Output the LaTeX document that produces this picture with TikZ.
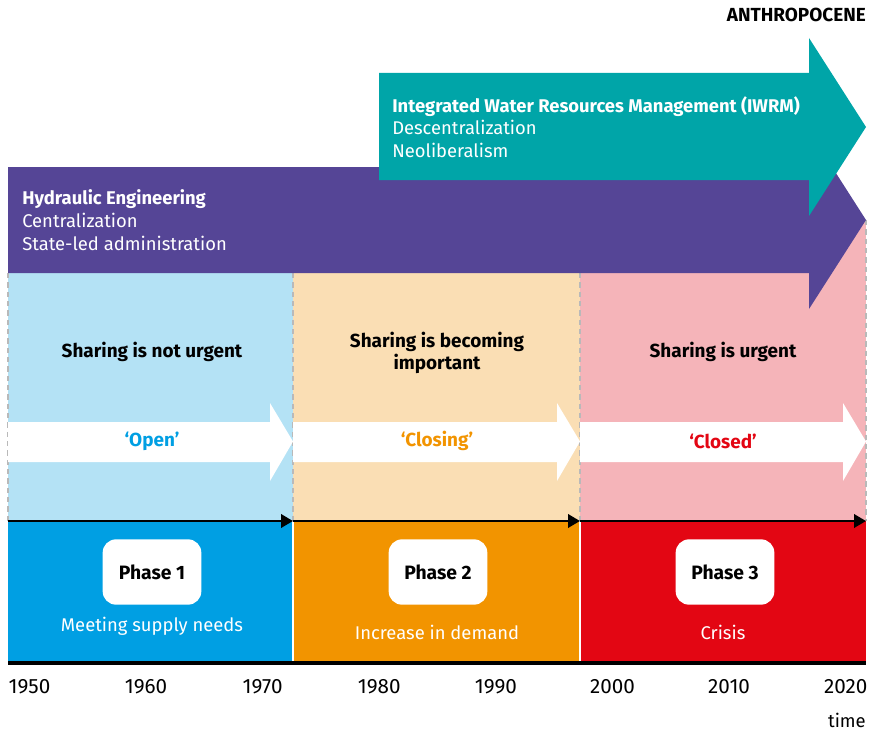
\documentclass[tikz,border=0pt]{standalone}
\usepackage{fontspec}
\setmainfont{Fira Sans}
\usetikzlibrary{arrows.meta}

\definecolor{hydro}{RGB}{85,69,150}
\definecolor{iwrm}{RGB}{0,165,168}
\definecolor{openc}{RGB}{0,159,227}
\definecolor{closingc}{RGB}{242,148,0}
\definecolor{closedc}{RGB}{227,6,19}
\definecolor{openbg}{RGB}{180,226,245}
\definecolor{closingbg}{RGB}{250,222,180}
\definecolor{closedbg}{RGB}{245,180,185}
\definecolor{sep}{RGB}{185,185,185}

\tikzset{
  txt/.style={font=\fontsize{13.8}{17}\selectfont, inner sep=0pt},
  head/.style={txt, font=\fontsize{14.2}{16.5}\selectfont\bfseries},
  yearlbl/.style={txt, font=\fontsize{15.5}{17}\selectfont},
  phasebox/.style={fill=white, rounded corners=10pt, minimum width=74pt, minimum height=49pt, font=\fontsize{14.5}{16}\selectfont\bfseries},
  tline/.style={line width=2pt, -{Triangle[length=9pt, width=10pt]}},
  divider/.style={sep, line width=0.8pt, dash pattern=on 4pt off 3pt}
}

\begin{document}
\begin{tikzpicture}[x=0.75pt, y=-0.75pt]
\useasboundingbox (0,0) rectangle (870,731);

% background of the three periods
\fill[openbg] (8,273) rectangle (293,521);
\fill[closingbg] (293,273) rectangle (580,521);
\fill[closedbg] (580,220) rectangle (866,521);
\draw[divider] (8,273) -- (8,521);
\draw[divider] (293,273) -- (293,521);
\draw[divider] (580,273) -- (580,521);
\draw[divider] (866,220) -- (866,521);

% paradigms
\fill[hydro] (8,167) -- (809,167) -- (809,131) -- (866,220) -- (809,309) -- (809,273) -- (8,273) -- cycle;
\fill[iwrm] (379,73) -- (809,73) -- (809,38) -- (866,127) -- (809,216) -- (809,180) -- (379,180) -- cycle;

\node[head, anchor=north east] (anthro) at (866,8) {ANTHROPOCENE};
\node[txt, white, anchor=west, align=left] (iwrmtxt) at (392,127)
  {\textbf{Integrated Water Resources Management (IWRM)}\\Descentralization\\Neoliberalism};
\node[txt, white, anchor=west, align=left] (hydrotxt) at (22,220)
  {\textbf{Hydraulic Engineering}\\Centralization\\State-led administration};

% white arrows
\foreach \xa/\xb in {8/293, 293/580, 580/866}
  \fill[white] (\xa,422) -- (\xb-23,422) -- (\xb-23,403) -- (\xb,441.5) -- (\xb-23,481) -- (\xb-23,462) -- (\xa,462) -- cycle;

\node[head] (state1) at (152,352) {Sharing is not urgent};
\node[head, align=center] (state2) at (437,353) {Sharing is becoming\\important};
\node[head] (state3) at (723,352) {Sharing is urgent};

\node[head, openc] (open) at (152,441) {‘Open’};
\node[head, closingc] (closing) at (437,441) {‘Closing’};
\node[head, closedc] (closed) at (723,441) {‘Closed’};

% phases
\fill[openc] (8,521) rectangle (293,663);
\fill[closingc] (293,521) rectangle (580,663);
\fill[closedc] (580,521) rectangle (866,663);
\draw[white, line width=0.8pt] (293,521) -- (293,663) (580,521) -- (580,663);

\node[phasebox] (ph1) at (152,572) {Phase 1};
\node[phasebox] (ph2) at (438,572) {Phase 2};
\node[phasebox] (ph3) at (725,572) {Phase 3};
\node[txt, white] (need1) at (152,626) {Meeting supply needs};
\node[txt, white] (need2) at (437,632) {Increase in demand};
\node[txt, white] (need3) at (723,632) {Crisis};

% time axis
\coordinate (t0) at (8,521);
\coordinate (t1) at (293,521);
\coordinate (t2) at (580,521);
\coordinate (t3) at (866,521);
\draw[tline] (t0) -- (t1);
\draw[tline] (t1) -- (t2);
\draw[tline] (t2) -- (t3);
\draw[line width=2.5pt] (8,663) -- (866,663);

\foreach \yr [count=\i from 0] in {1950,1960,...,2020}
  \node[yearlbl] (y\yr) at (29.5+116.6*\i,687) {\yr};
\node[txt, anchor=east] (time) at (866,720) {time};
\end{tikzpicture}
\end{document}
